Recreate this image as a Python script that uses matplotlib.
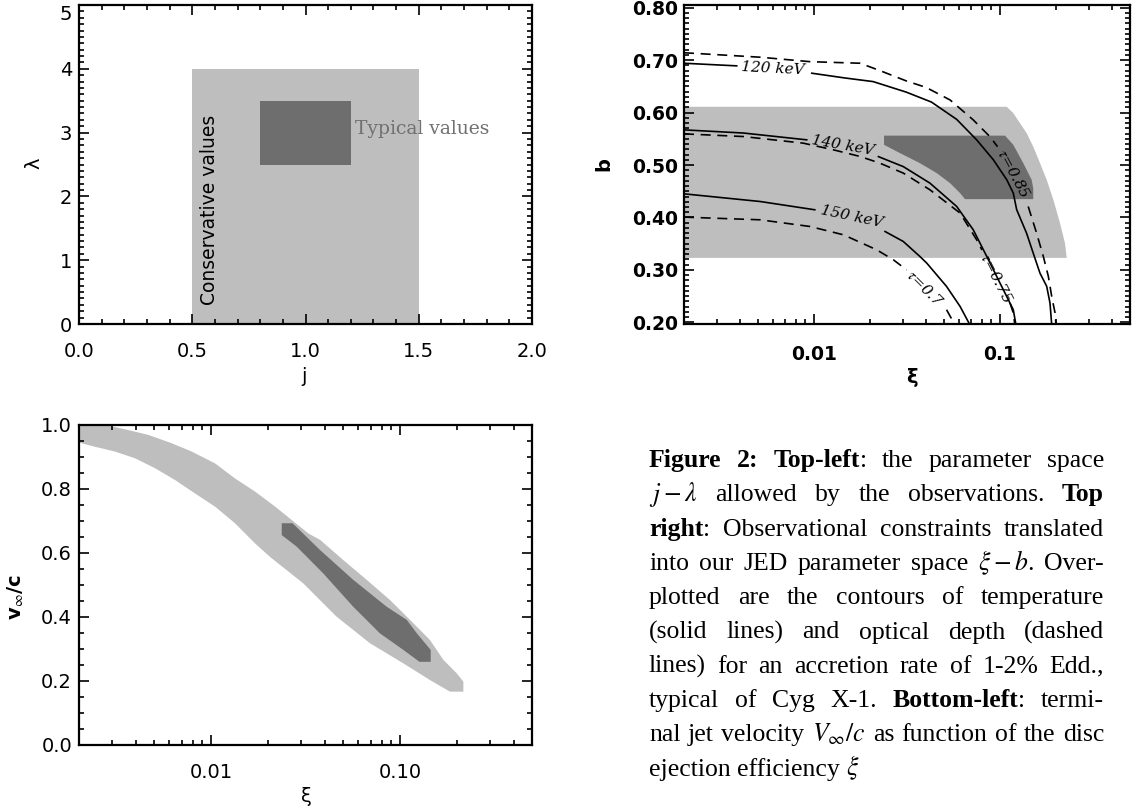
import numpy as np
import matplotlib.pyplot as plt
from matplotlib.ticker import MultipleLocator, LogLocator, NullFormatter

plt.rcParams['mathtext.fontset'] = 'stix'
plt.rcParams['font.family'] = ['DejaVu Sans']

LIGHT = '#bebebe'
DARK = '#6e6e6e'
nan = np.nan

# top-left: allowed j - lambda space
cons_j = [0.5, 1.5]
cons_lam = [0.0, 4.0]
typ_j = [0.8, 1.2]
typ_lam = [2.5, 3.5]

# top-right: xi - b space
obs_xi = [0.0020, 0.1087, 0.1179, 0.1279, 0.1390, 0.1509, 0.1640, 0.1782,
          0.1935, 0.2103, 0.2236, 0.2284, 0.0020]
obs_b = [0.611, 0.611, 0.599, 0.580, 0.561, 0.535, 0.504, 0.472,
         0.434, 0.389, 0.351, 0.323, 0.323]
typ_xi = [0.0238, 0.1064, 0.1179, 0.1334, 0.1479, 0.1509, 0.1509, 0.0648,
          0.0610, 0.0539, 0.0457, 0.0371, 0.0290, 0.0238]
typ_b = [0.556, 0.556, 0.5385, 0.5036, 0.472, 0.456, 0.435, 0.435,
         0.4465, 0.4655, 0.4846, 0.5036, 0.5227, 0.5385]

# temperature contours (solid)
t120_xi = [0.0020, 0.00384, nan, 0.00973, 0.0146, 0.0208, 0.0313, 0.0428, 0.0585,
           0.0749, 0.0921, 0.1087, 0.1179, 0.1229, 0.1390, 0.1509, 0.1640,
           0.1782, 0.1857, 0.1897]
t120_b = [0.694, 0.689, nan, 0.675, 0.666, 0.659, 0.639, 0.620, 0.587,
          0.548, 0.510, 0.472, 0.4465, 0.415, 0.370, 0.332, 0.294,
          0.269, 0.237, 0.195]
t140_xi = [0.0020, 0.00417, 0.00914, nan, 0.0222, 0.0302, 0.0420, 0.0585,
           0.0718, 0.0849, 0.100, 0.1109, 0.1179, 0.1219]
t140_b = [0.567, 0.561, 0.548, nan, 0.516, 0.497, 0.4655, 0.421,
          0.3766, 0.3257, 0.275, 0.2432, 0.224, 0.195]
t150_xi = [0.0020, 0.00513, 0.0101, nan, 0.0241, 0.0302, 0.0371, 0.0404,
           0.0516, 0.0610, 0.0690]
t150_b = [0.4451, 0.4305, 0.4147, nan, 0.3733, 0.3543, 0.3257, 0.313,
          0.2686, 0.2305, 0.195]

# optical depth contours (dashed)
tau085_xi = [0.0020, 0.00513, 0.0095, 0.0177, 0.0226, 0.0315, 0.0400, 0.0539,
             0.0718, 0.0883, 0.097, nan, 0.1418, 0.1574, 0.1709, 0.1819,
             0.1897, 0.1977, 0.2000]
tau085_b = [0.714, 0.7055, 0.697, 0.694, 0.680, 0.660, 0.648, 0.624,
            0.586, 0.554, 0.535, nan, 0.421, 0.370, 0.326, 0.288,
            0.2495, 0.218, 0.195]
tau075_xi = [0.0020, 0.00417, 0.00875, 0.0127, 0.0177, 0.0226, 0.0302, 0.0420,
             0.0610, 0.0749, 0.080, nan, 0.1132, 0.1179, 0.1202]
tau075_b = [0.5594, 0.5543, 0.5417, 0.529, 0.5163, 0.5036, 0.4846, 0.4528,
            0.4084, 0.3575, 0.338, nan, 0.237, 0.218, 0.195]
tau07_xi = [0.0020, 0.00513, 0.0095, 0.0144, 0.0217, 0.0267, 0.0315, nan,
            0.0516, 0.0573]
tau07_b = [0.4007, 0.3956, 0.3829, 0.367, 0.3385, 0.3194, 0.300, nan,
           0.2242, 0.195]

lbl_text = ['120 keV', '140 keV', '150 keV',
            r'$\tau$=0.85', r'$\tau$=0.75', r'$\tau$=0.7']
lbl_xi = [0.00604, 0.0143, 0.01595, 0.1178, 0.0948, 0.0395]
lbl_b = [0.6846, 0.538, 0.402, 0.483, 0.2846, 0.2655]
lbl_rot = [-3, -10, -12, -62, -63, -45]

# bottom-left: terminal velocity vs xi
vc_xi = [0.0020, 0.00275, 0.00351, 0.00466, 0.00619, 0.0079, 0.0105, 0.01339,
         0.0171, 0.02183, 0.02675, 0.03275, 0.0378, 0.0501, 0.0667, 0.0886,
         0.113, 0.1442, 0.1698, 0.1997, 0.2166, 0.2166,
         0.184, 0.1442, 0.1043, 0.0694, 0.0462, 0.0308, 0.0205, 0.0171,
         0.01339, 0.0105, 0.00823, 0.00645, 0.00505, 0.00396, 0.0031,
         0.00243, 0.0020]
vc_v = [1.0, 1.0, 0.9865, 0.969, 0.943, 0.917, 0.880, 0.833,
        0.792, 0.745, 0.703, 0.661, 0.641, 0.578, 0.516, 0.453,
        0.391, 0.328, 0.266, 0.224, 0.198, 0.1667,
        0.1667, 0.203, 0.255, 0.318, 0.401, 0.505, 0.588, 0.630,
        0.693, 0.745, 0.786, 0.828, 0.865, 0.896, 0.917,
        0.932, 0.945]
vt_xi = [0.02367, 0.0270, 0.0378, 0.0566, 0.0851, 0.1086, 0.1228, 0.1455,
         0.1455, 0.1268, 0.1043, 0.0783, 0.0566, 0.0393, 0.0284, 0.02367]
vt_v = [0.693, 0.693, 0.609, 0.516, 0.432, 0.391, 0.349, 0.297,
        0.260, 0.260, 0.297, 0.349, 0.432, 0.536, 0.620, 0.656]

caption = [
    "*Figure* *2:* *Top-left*: the parameter space",
    r"$j-\lambda$ allowed by the observations. *Top*",
    "*right*: Observational constraints translated",
    r"into our JED parameter space $\xi-b$. Over-",
    "plotted are the contours of temperature",
    "(solid lines) and optical depth (dashed",
    "lines) for an accretion rate of 1-2% Edd.,",
    "typical of Cyg X-1. *Bottom-left*: termi-",
    r"nal jet velocity $V_\infty/c$ as function of the disc",
    r"ejection efficiency $\xi$",
]

W, H = 1135, 811
fig = plt.figure(figsize=(W / 100, H / 100), dpi=100)


def idl_axes(ax, bold=False, xpad=13, ypad=5):
    for s in ax.spines.values():
        s.set_linewidth(1.6)
    ax.tick_params(which='both', direction='in', top=True, right=True,
                   width=1.2, labelsize=14 if not bold else 13.5)
    ax.tick_params(which='major', length=7)
    ax.tick_params(which='minor', length=3.5)
    ax.tick_params(axis='x', pad=xpad)
    ax.tick_params(axis='y', pad=ypad)
    if bold:
        for t in ax.get_xticklabels() + ax.get_yticklabels():
            t.set_fontweight('bold')


# ---- top-left
ax1 = fig.add_axes([79 / W, 1 - 324 / H, 453 / W, 319 / H])
ax1.fill_between(cons_j, cons_lam[0], cons_lam[1], color=LIGHT, lw=0)
ax1.fill_between(typ_j, typ_lam[0], typ_lam[1], color=DARK, lw=0)
ax1.text(0.578, 0.3, 'Conservative values', rotation=90, ha='center',
         va='bottom', fontsize=13.5)
ax1.text(1.22, 3.05, 'Typical values', family='DejaVu Serif', fontsize=13.5,
         color='#707070', ha='left', va='center')
ax1.set_xlim(0, 2)
ax1.set_ylim(0, 5)
ax1.xaxis.set_minor_locator(MultipleLocator(0.1))
ax1.yaxis.set_minor_locator(MultipleLocator(0.1))
ax1.set_xticks([0, 0.5, 1.0, 1.5, 2.0], ['0.0', '0.5', '1.0', '1.5', '2.0'])
ax1.set_yticks([0, 1, 2, 3, 4, 5], ['0', '1', '2', '3', '4', '5'])
idl_axes(ax1)
ax1.get_yticklabels()[-1].set_va('top')
ax1.text(-0.099, 0.505, 'λ', rotation=90, transform=ax1.transAxes,
         ha='center', va='center', fontsize=14)
ax1.text(0.497, -0.166, 'j', transform=ax1.transAxes,
         ha='center', va='center', fontsize=14)

# ---- top-right
ax2 = fig.add_axes([684 / W, 1 - 324 / H, 446 / W, 319 / H])
ax2.fill(obs_xi, obs_b, color=LIGHT, lw=0)
ax2.fill(typ_xi, typ_b, color=DARK, lw=0)
for xs, ys in [(t120_xi, t120_b), (t140_xi, t140_b), (t150_xi, t150_b)]:
    ax2.plot(xs, ys, color='black', lw=1.2)
for xs, ys in [(tau085_xi, tau085_b), (tau075_xi, tau075_b), (tau07_xi, tau07_b)]:
    ax2.plot(xs, ys, color='black', lw=1.2, dashes=(6, 4))
for s, x, y, r in zip(lbl_text, lbl_xi, lbl_b, lbl_rot):
    ax2.text(x, y, s, rotation=r, ha='center', va='center',
             family='DejaVu Serif', style='italic', fontsize=11,
             rotation_mode='anchor')
ax2.set_xscale('log')
ax2.set_xlim(0.002, 0.5)
ax2.set_ylim(0.197, 0.805)
ax2.xaxis.set_minor_locator(LogLocator(base=10, subs=np.arange(2, 10)))
ax2.xaxis.set_minor_formatter(NullFormatter())
ax2.set_xticks([0.01, 0.1], ['0.01', '0.1'])
ax2.yaxis.set_minor_locator(MultipleLocator(0.01))
ax2.set_yticks([0.2, 0.3, 0.4, 0.5, 0.6, 0.7, 0.8],
               ['0.20', '0.30', '0.40', '0.50', '0.60', '0.70', '0.80'])
idl_axes(ax2, bold=True, xpad=15, ypad=4)
ax2.text(-0.179, 0.5, 'b', rotation=90, transform=ax2.transAxes,
         ha='center', va='center', fontsize=14, fontweight='bold')
ax2.text(0.511, -0.169, 'ξ', transform=ax2.transAxes,
         ha='center', va='center', fontsize=14, fontweight='bold')

# ---- bottom-left
ax3 = fig.add_axes([79 / W, 1 - 745 / H, 453 / W, 320 / H])
ax3.fill(vc_xi, vc_v, color=LIGHT, lw=0)
ax3.fill(vt_xi, vt_v, color=DARK, lw=0)
ax3.set_xscale('log')
ax3.set_xlim(0.002, 0.5)
ax3.set_ylim(0, 1.0)
ax3.xaxis.set_minor_locator(LogLocator(base=10, subs=np.arange(2, 10)))
ax3.xaxis.set_minor_formatter(NullFormatter())
ax3.set_xticks([0.01, 0.1], ['0.01', '0.10'])
ax3.yaxis.set_minor_locator(MultipleLocator(0.05))
ax3.set_yticks([0, 0.2, 0.4, 0.6, 0.8, 1.0],
               ['0.0', '0.2', '0.4', '0.6', '0.8', '1.0'])
idl_axes(ax3)
ax3.text(-0.139, 0.463, r'v$_\infty$/c', rotation=90, transform=ax3.transAxes,
         ha='center', va='center', fontsize=14, fontweight='bold')
ax3.text(0.503, -0.1625, 'ξ', transform=ax3.transAxes,
         ha='center', va='center', fontsize=14)

# ---- caption, justified word by word
renderer = fig.canvas.get_renderer()
cap_left, cap_right = 649, 1104
cap_fs = 18.5
for i, line in enumerate(caption):
    y = 1 - (467 + i * 34.3) / H
    words = []
    for w in line.split(' '):
        parts = []
        bold = False
        for k, seg in enumerate(w.split('*')):
            if k > 0:
                bold = not bold
            if seg:
                t = fig.text(0, y, seg, family='Liberation Serif', fontsize=cap_fs,
                             fontweight='bold' if bold else 'normal', va='baseline')
                parts.append((t, t.get_window_extent(renderer).width))
        words.append(parts)
    widths = [sum(p[1] for p in parts) for parts in words]
    if i < len(caption) - 1:
        gap = (cap_right - cap_left - sum(widths)) / (len(words) - 1)
    else:
        gap = cap_fs * 100 / 72 * 0.25
    x = cap_left
    for parts, wd in zip(words, widths):
        xx = x
        for t, tw in parts:
            t.set_x(xx / W)
            xx += tw
        x += wd + gap

fig.savefig('out.png', dpi=100)
